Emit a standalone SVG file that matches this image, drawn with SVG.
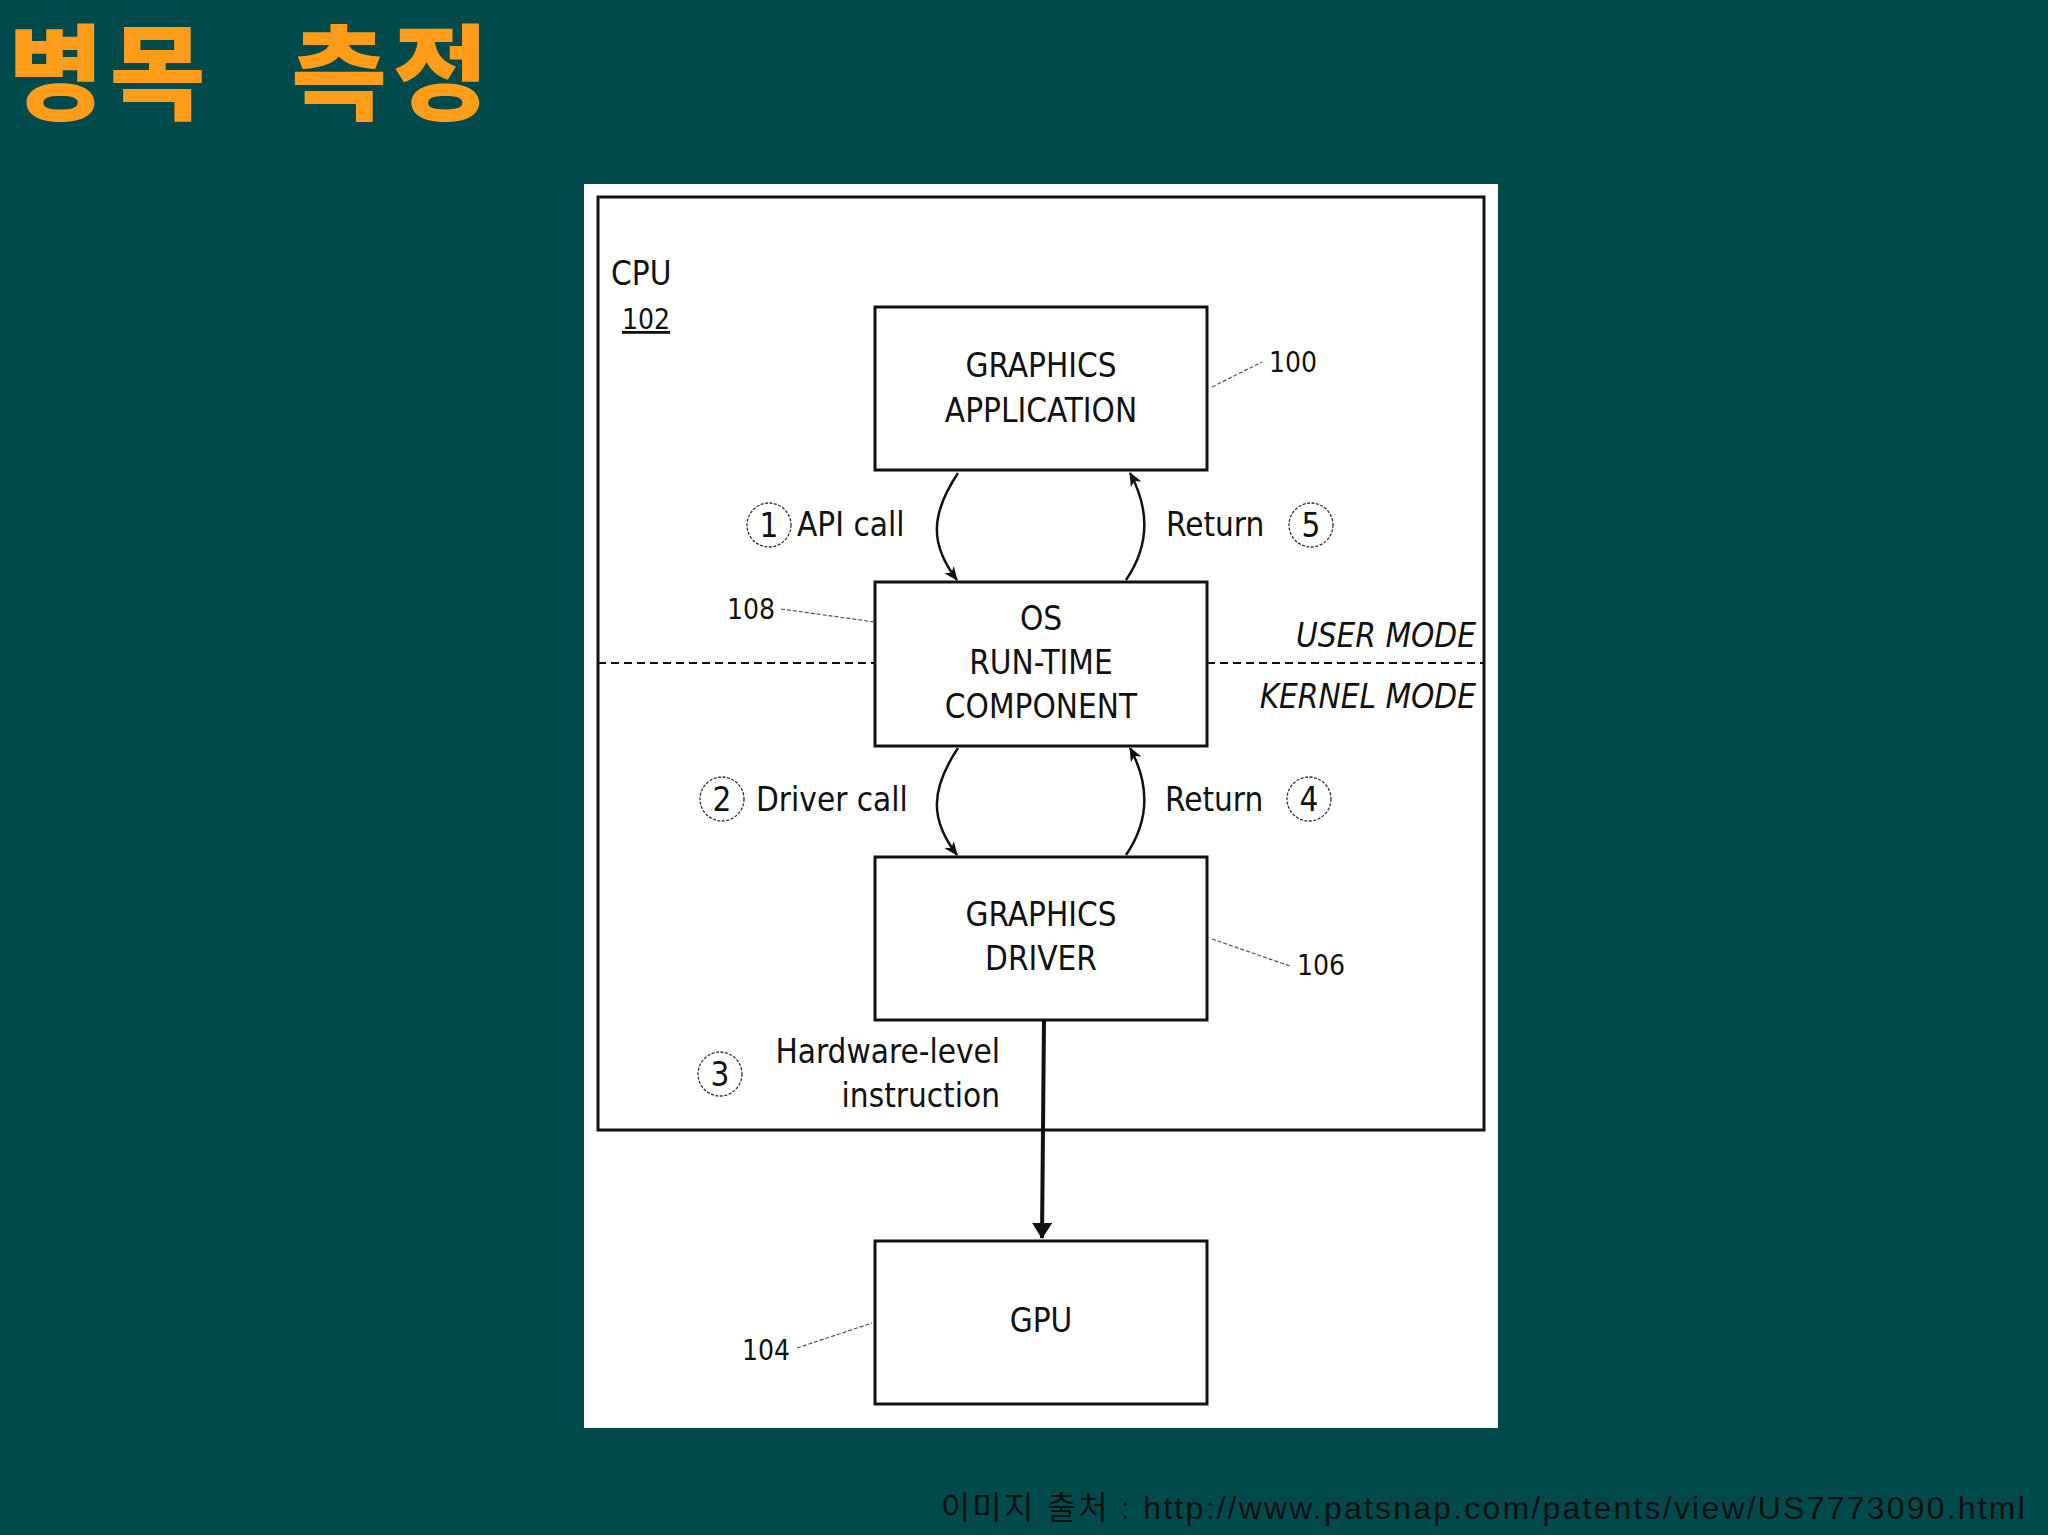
<svg xmlns="http://www.w3.org/2000/svg" width="2048" height="1535" viewBox="0 0 2048 1535">
<defs>
<style>
.t{font-family:"DejaVu Sans Condensed","DejaVu Sans",sans-serif;font-size:33px;fill:#111}
.c{text-anchor:middle}
.n{font-family:"DejaVu Sans Condensed","DejaVu Sans",sans-serif;font-size:28px;fill:#111}
.box{fill:#fff;stroke:#111;stroke-width:3}
.lead{stroke:#555;stroke-width:1.2;stroke-dasharray:4 2;fill:none}
.cir{fill:none;stroke:#333;stroke-width:1.3;stroke-dasharray:3 1.5}
.arr{fill:none;stroke:#111;stroke-width:2.5}
</style>
<marker id="ah" markerWidth="14" markerHeight="14" refX="13" refY="6" orient="auto" markerUnits="userSpaceOnUse" viewBox="0 0 14 12"><path d="M0,0 L14,6 L0,12 L4,6 z" fill="#111"/></marker>
<marker id="ah2" markerWidth="16" markerHeight="20" refX="15" refY="10" orient="auto" markerUnits="userSpaceOnUse" viewBox="0 0 16 20"><path d="M0,0 L16,10 L0,20 z" fill="#111"/></marker>
</defs>
<rect width="2048" height="1535" fill="#004a4c"/>
<text x="8" y="112" font-family="Noto Sans CJK KR,sans-serif" font-size="104" font-weight="900" letter-spacing="6" word-spacing="50" fill="#ff9c1a">병목 측정</text>
<rect x="584" y="184" width="914" height="1244" fill="#fff"/>
<g id="cpu"><rect x="598" y="197" width="886" height="933" fill="none" stroke="#111" stroke-width="3"/>
<text class="t" x="611" y="285">CPU</text><text class="n" x="622" y="329" text-decoration="underline">102</text></g>
<line x1="598" y1="663" x2="875" y2="663" stroke="#111" stroke-width="2" stroke-dasharray="8 5"/>
<line x1="1207" y1="663" x2="1484" y2="663" stroke="#111" stroke-width="2" stroke-dasharray="8 5"/>
<text class="t" x="1476" y="647" text-anchor="end" font-style="italic">USER MODE</text>
<text class="t" x="1476" y="708" text-anchor="end" font-style="italic">KERNEL MODE</text>
<g id="app"><rect class="box" x="875" y="307" width="332" height="163"/><text class="t c" x="1041" y="377">GRAPHICS</text><text class="t c" x="1041" y="422">APPLICATION</text>
<path class="lead" d="M1212,387 L1262,362"/><text class="n" x="1269" y="372">100</text></g>
<g id="os"><rect class="box" x="875" y="582" width="332" height="164"/><text class="t c" x="1041" y="630">OS</text><text class="t c" x="1041" y="674">RUN-TIME</text><text class="t c" x="1041" y="718">COMPONENT</text>
<path class="lead" d="M781,609 L875,622"/><text class="n" x="727" y="619">108</text></g>
<g id="drv"><rect class="box" x="875" y="857" width="332" height="163"/><text class="t c" x="1041" y="926">GRAPHICS</text><text class="t c" x="1041" y="970">DRIVER</text>
<path class="lead" d="M1212,939 L1290,966"/><text class="n" x="1297" y="975">106</text></g>
<g id="gpu"><rect class="box" x="875" y="1241" width="332" height="163"/><text class="t c" x="1041" y="1332">GPU</text>
<path class="lead" d="M797,1348 L872,1323"/><text class="n" x="742" y="1360">104</text></g>
<g id="connectors">
<path class="arr" d="M958,473 C930,515 930,545 957,580" marker-end="url(#ah)"/>
<path class="arr" d="M1126,580 C1150,545 1150,510 1130,473" marker-end="url(#ah)"/>
<path class="arr" d="M958,748 C930,790 930,820 957,855" marker-end="url(#ah)"/>
<path class="arr" d="M1126,855 C1150,820 1150,785 1130,748" marker-end="url(#ah)"/>
<path d="M1044,1020 L1042,1238" stroke="#111" stroke-width="4" fill="none" marker-end="url(#ah2)"/>
</g>
<g id="labels">
<circle class="cir" cx="769" cy="525" r="22"/><text class="t c" x="769" y="537">1</text><text class="t" x="797" y="536">API call</text>
<text class="t" x="1166" y="536">Return</text><circle class="cir" cx="1311" cy="525" r="22"/><text class="t c" x="1311" y="537">5</text>
<circle class="cir" cx="722" cy="799" r="22"/><text class="t c" x="722" y="811">2</text><text class="t" x="756" y="811">Driver call</text>
<text class="t" x="1165" y="811">Return</text><circle class="cir" cx="1309" cy="799" r="22"/><text class="t c" x="1309" y="811">4</text>
<circle class="cir" cx="720" cy="1074" r="22"/><text class="t c" x="720" y="1086">3</text>
<text class="t" x="1000" y="1063" text-anchor="end" font-size="34">Hardware-level</text><text class="t" x="1000" y="1107" text-anchor="end" font-size="34">instruction</text>
</g>
<text x="2027" y="1519" text-anchor="end" font-family="Liberation Sans,Noto Sans CJK KR,sans-serif" font-size="32" letter-spacing="2.2" fill="#111">이미지 출처 : http://www.patsnap.com/patents/view/US7773090.html</text>
</svg>
